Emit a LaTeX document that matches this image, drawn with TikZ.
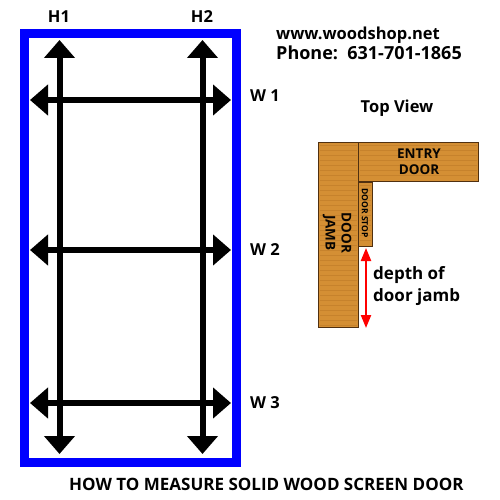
\documentclass[tikz,border=0pt]{standalone}
\usepackage{fontspec}
\setmainfont{Open Sans}
\usetikzlibrary{arrows.meta}
\definecolor{woodf}{RGB}{212,143,52}
\definecolor{woodg}{RGB}{190,122,40}
\definecolor{woode}{RGB}{80,48,16}
\tikzset{
 dim/.style={line width=6pt,black,{Triangle[width=30pt,length=18pt]}-{Triangle[width=30pt,length=18pt]}},
 lab/.style={font=\bfseries\fontsize{16.5}{18}\selectfont,inner sep=0pt,text=black},
 wood/.style={draw=woode,fill=woodf,line width=1.2pt,inner sep=0pt,anchor=north west},
 grain/.style={woodg,line width=0.5pt,opacity=0.6},
 woodtxt/.style={font=\bfseries\fontsize{13.5}{16}\selectfont,align=center,inner sep=0pt,text=black!90!woode},
}
\begin{document}
\begin{tikzpicture}[x=1pt,y=-1pt]
\useasboundingbox (0,0) rectangle (500,500);
\draw[blue,line width=9pt] (24.5,33.5) rectangle (236.5,462.5);
\foreach \n/\x in {a/59.5,b/202.5}{
 \coordinate (\n t) at (\x,40);
 \coordinate (\n b) at (\x,454);
 \draw[dim] (\n t) -- (\n b);
}
\foreach \n/\y in {p/100,q/250,r/403}{
 \coordinate (\n l) at (30,\y);
 \coordinate (\n r) at (231,\y);
 \draw[dim] (\n l) -- (\n r);
}
\node[lab] (h1) at (59,17) {H1};
\node[lab] (h2) at (202,17) {H2};
\node[lab] (w1) at (265,96) {W 1};
\node[lab] (w2) at (265,250) {W 2};
\node[lab] (w3) at (265,403) {W 3};
\node[lab,anchor=west] (site) at (276,35.5) {www.woodshop.net};
\node[lab,anchor=west,font=\bfseries\fontsize{18}{20}\selectfont] (phone) at (276,53) {Phone:\ \ 631-701-1865};
\node[lab] (top) at (397,108) {Top View};
\node[wood,minimum width=40pt,minimum height=185pt] (jamb) at (318,142) {};
\node[wood,minimum width=120pt,minimum height=39pt] (door) at (358,142) {};
\node[wood,minimum width=14pt,minimum height=64pt] (stop) at (358,181.5) {};
\foreach \y in {145,150,...,325}{\draw[grain] (319.5,\y) -- (356.5,\y);}
\foreach \y in {145,150,...,179}{\draw[grain] (359.5,\y) -- (476.5,\y);}
\foreach \y in {185,190,...,244}{\draw[grain] (359.5,\y) -- (370.5,\y);}
\node[woodtxt] at (419,161.5) {ENTRY\\DOOR};
\node[woodtxt,rotate=-90] at (337,233) {DOOR\\JAMB};
\node[font=\bfseries\fontsize{8.5}{9}\selectfont,rotate=-90,inner sep=0pt] at (365,213) {DOOR STOP};
\coordinate (dt) at (366,248);
\coordinate (db) at (366,328);
\draw[red,line width=2.2pt,{Triangle[width=10pt,length=13pt]}-{Triangle[width=10pt,length=13pt]}] (dt) -- (db);
\node[font=\bfseries\fontsize{17}{22}\selectfont,align=left,inner sep=0pt,anchor=west] (depth) at (373,286) {depth of\\door jamb};
\node[lab,anchor=west,font=\bfseries\fontsize{17}{18}\selectfont] (title) at (69,484) {HOW TO MEASURE SOLID WOOD SCREEN DOOR};
\end{tikzpicture}
\end{document}
